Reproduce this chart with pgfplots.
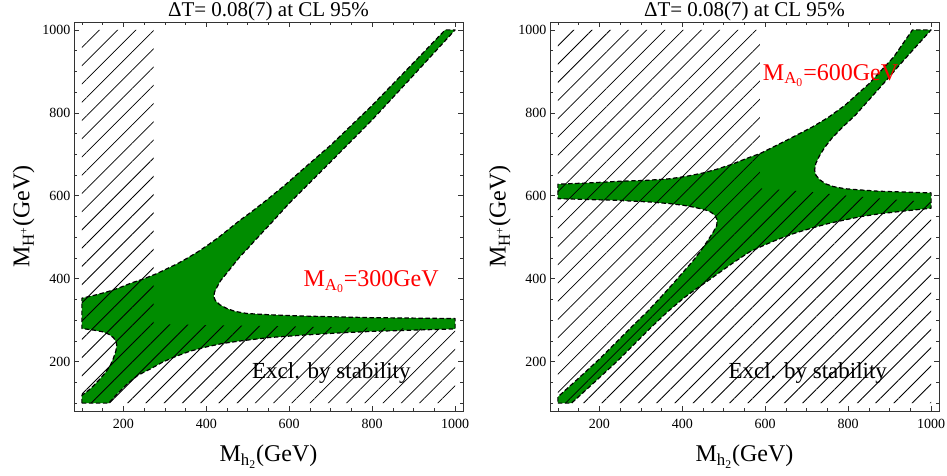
\documentclass[border=0pt]{standalone}
\usepackage{pgfplots}
\pgfplotsset{compat=1.18}
\usepackage{fontspec}
\setmainfont{Liberation Serif}
\usetikzlibrary{patterns.meta}
\definecolor{mgreen}{RGB}{0,140,0}

\pgfplotsset{
  panel/.style={
    width=389bp, height=389bp, scale only axis,
    xmin=81, xmax=1019, ymin=81, ymax=1019,
    xtick={200,400,600,800,1000}, ytick={200,400,600,800,1000},
    minor xtick={100,150,...,1000}, minor ytick={100,150,...,1000},
    tick align=inside,
    major tick length=5bp, minor tick length=3bp,
    every tick/.style={black!80, line width=0.6bp},
    axis line style={black!80, line width=0.9bp},
    tick label style={font=\fontsize{14bp}{16bp}\selectfont},
    /pgf/number format/assume math mode=true,
    /pgf/number format/1000 sep={},
    xticklabel style={yshift=-4.5bp},
    every axis title/.style={},
    title style={at={(axis description cs:0.5,1)}, anchor=base, yshift=5.5bp, inner sep=0pt},
    title={\fontsize{21bp}{25bp}\selectfont ΔT= 0.08(7) at CL 95\%},
    xlabel style={at={(axis description cs:0.5,-0.1311)}, anchor=base, inner sep=0pt},
    xlabel={\fontsize{24bp}{28bp}\selectfont M\textsubscript{h\textsubscript{2}}(GeV)},
    ylabel style={at={(axis description cs:-0.1144,0.5)}, anchor=base, inner sep=0pt},
    ylabel={\fontsize{24bp}{28bp}\selectfont M\textsubscript{H\textsuperscript{+}}(GeV)},
  },
  greenreg/.style={fill=mgreen, draw=black, dash pattern=on 4.5bp off 2.5bp, line width=1.2bp, line join=round},
  hatch/.style={draw=none, pattern={Lines[angle=45,distance=12.9bp,line width=0.8bp]}, pattern color=black},
}

\begin{document}
\begin{tikzpicture}
\begin{axis}[panel, at={(0,0)}, anchor=south west]
\addplot[greenreg] coordinates {
(100,100) (165,100) (185,122) (208,145) (235,167) (268,184) (295,199) (325,212) (360,225) (402,236) (440,244) (483,250) (550,258) (634,264) (715,269) (800,273) (900,276) (1000,279)
(1000,304) (900,305) (800,306) (715,308) (634,310) (554,313) (499,316) (470,321) (450,328) (433,337) (422,347) (418,357) (420,368) (426,380) (435,396) (449,413) (465,433) (481,453) (500,473) (518,493) (560,538) (600,582) (700,682) (800,783) (900,891) (1000,1000)
(976,1000) (900,921) (800,818) (700,722) (640,670) (590,626) (546,590) (510,562) (480,540) (455,520) (430,500) (405,482) (380,465) (355,450) (330,436) (305,424) (280,412) (250,400) (220,390) (190,378) (160,368) (130,360) (100,353)
(100,280) (129,276) (150,272) (165,266) (176,258) (182,249) (184,240) (182,226) (176,208) (169,192) (158,175) (145,160) (133,147) (121,135) (110,126) (100,119) (100,100)
};
\addplot[hatch] coordinates {
(100,100) (1000,100) (1000,278) (800,282) (600,285) (400,288) (273,291) (273,1000) (100,1000) (100,100)
};
\node[anchor=base west, text=red, inner sep=0pt, font=\fontsize{24bp}{28bp}\selectfont] at (axis cs:634,381) {M\textsubscript{A\textsubscript{0}}=300GeV};
\node[anchor=base west, inner sep=0pt, font=\fontsize{23bp}{27bp}\selectfont] at (axis cs:510,160) {Excl. by stability};
\end{axis}

\begin{axis}[panel, at={(476bp,0)}, anchor=south west]
\addplot[greenreg] coordinates {
(100,100) (133,100) (190,152) (242,200) (282,240) (322,280) (362,318) (403,353) (430,373) (459,393) (487,413) (515,433) (540,450) (563,465) (600,482) (631,495) (672,510) (712,522) (752,533) (793,542) (832,550) (872,556) (933,563) (1000,570)
(1000,607) (933,609) (873,611) (830,614) (792,617) (765,622) (745,629) (731,639) (722,650) (719,662) (722,678) (730,695) (743,716) (760,738) (787,766) (817,794) (850,831) (889,875) (920,911) (953,948) (1000,1000)
(955,1000) (910,935) (850,870) (792,818) (752,789) (712,765) (652,734) (588,702) (555,690) (520,676) (483,664) (450,655) (410,647) (370,641) (310,637) (250,635) (175,631) (100,628)
(100,593) (170,591) (242,589) (322,585) (370,581) (403,577) (425,573) (443,569) (458,565) (470,560) (479,552) (484,542) (483,528) (475,513) (460,490) (443,465) (425,442) (403,417) (375,385) (346,353) (315,320) (282,288) (242,248) (202,208) (150,160) (100,115) (100,100)
};
\addplot[hatch] coordinates {
(100,100) (1000,100) (1000,585) (900,592) (800,600) (700,610) (587,618) (587,1000) (100,1000) (100,100)
};
\node[anchor=base west, text=red, inner sep=0pt, font=\fontsize{24bp}{28bp}\selectfont] at (axis cs:594,879) {M\textsubscript{A\textsubscript{0}}=600GeV};
\node[anchor=base west, inner sep=0pt, font=\fontsize{23bp}{27bp}\selectfont] at (axis cs:511,160) {Excl. by stability};
\end{axis}
\pgfresetboundingbox
\path[use as bounding box] (-74bp,-65bp) rectangle (873bp,411bp);
\end{tikzpicture}
\end{document}
